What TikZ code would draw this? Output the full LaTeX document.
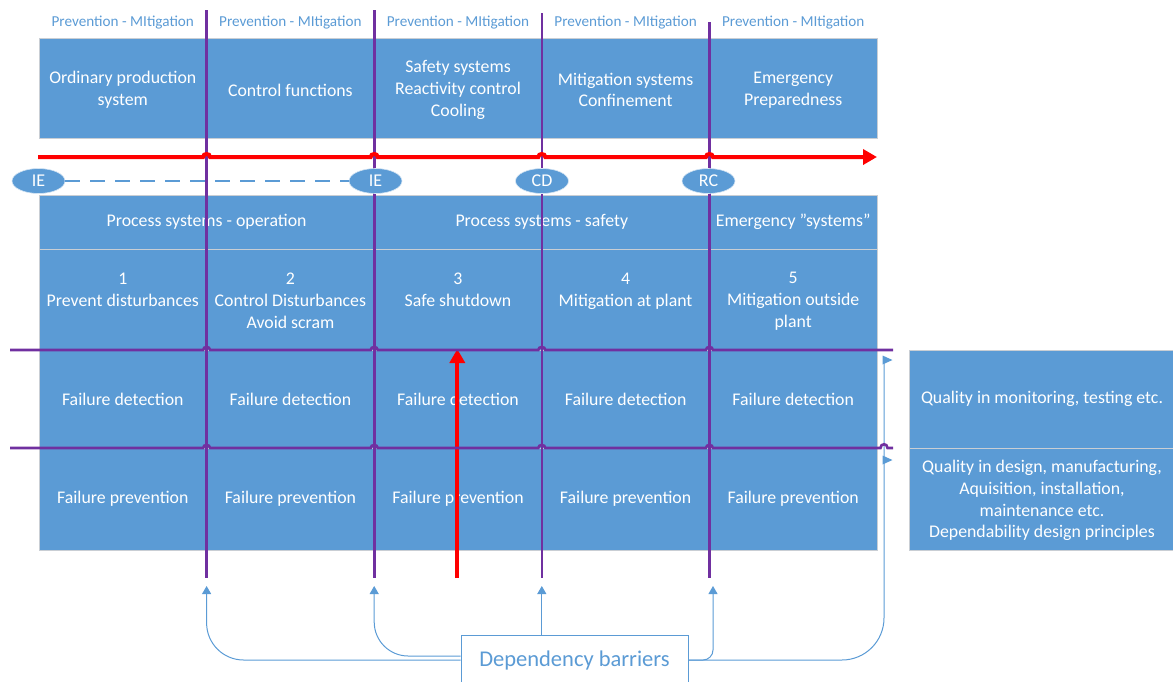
\documentclass[tikz,border=0pt]{standalone}
\usepackage{fontspec}
\setmainfont{Carlito}
\usetikzlibrary{arrows.meta,shapes.geometric}
\definecolor{cblue}{HTML}{5B9BD5}
\definecolor{cpurple}{HTML}{7030A0}
\definecolor{cred}{HTML}{FF0000}
\definecolor{cedge}{HTML}{C9CED4}
\begin{document}
\begin{tikzpicture}[x=1pt,y=-1pt,
  font=\fontsize{17.8}{21.8}\selectfont,
  cell/.style={rectangle, fill=cblue, draw=cedge, line width=0.8pt, text=white, align=center, inner sep=0pt, minimum width=167.6pt},
  ctext/.style={text=white, align=center, inner sep=0pt},
  ptop/.style={text=cblue, inner sep=0pt, font=\fontsize{15.2}{18}\selectfont},
  ev/.style={ellipse, fill=cblue, draw=white!75!cblue, line width=0.6pt, text=white, minimum width=53pt, minimum height=25pt, inner sep=0pt, font=\fontsize{18}{20}\selectfont},
  barrier/.style={draw=cpurple, line width=2.6pt},
  redarrow/.style={draw=cred, line width=4pt, -{Triangle[length=14pt,width=15pt]}},
  deparrow/.style={draw=cblue, line width=1pt, -{Triangle[length=8pt,width=9pt]}},
  depline/.style={draw=cblue, line width=1pt}
]
\useasboundingbox (0,0) rectangle (1173,681);

% top labels
\foreach \i/\cx in {1/122.8,2/290.4,3/458.0,4/625.6,5/793.2}
  \node[ptop] (pl\i) at (\cx,23) {Prevention - MItigation};

% top row
\node[cell, minimum height=100pt] (t1) at (122.8,88) {};
\node[cell, minimum height=100pt] (t2) at (290.4,88) {};
\node[cell, minimum height=100pt] (t3) at (458.0,88) {};
\node[cell, minimum height=100pt] (t4) at (625.6,88) {};
\node[cell, minimum height=100pt] (t5) at (793.2,88) {};
\node[ctext] at ([yshift=-2pt]t1.center) {Ordinary production\\system};
\node[ctext] at ([yshift=-2pt]t2.center) {Control functions};
\node[ctext] at ([yshift=-2pt]t3.center) {Safety systems\\Reactivity control\\Cooling};
\node[ctext] at ([yshift=-2pt]t4.center) {Mitigation systems\\Confinement};
\node[ctext] at ([yshift=-2pt]t5.center) {Emergency\\Preparedness};

% header row
\node[cell, minimum width=335.2pt, minimum height=54pt] (h1) at (206.6,222) {Process systems - operation};
\node[cell, minimum width=335.2pt, minimum height=54pt] (h2) at (541.8,222) {Process systems - safety};
\node[cell, minimum height=54pt] (h3) at (793.2,222) {Emergency ”systems”};

% row 2
\node[cell, minimum height=101pt] (s1) at (122.8,299.5) {};
\node[cell, minimum height=101pt] (s2) at (290.4,299.5) {};
\node[cell, minimum height=101pt] (s3) at (458.0,299.5) {};
\node[cell, minimum height=101pt] (s4) at (625.6,299.5) {};
\node[cell, minimum height=101pt] (s5) at (793.2,299.5) {};
\node[ctext] at ([yshift=-1.5pt]s1.center) {1\\Prevent disturbances\\~};
\node[ctext] at ([yshift=-1.5pt]s2.center) {2\\Control Disturbances\\Avoid scram};
\node[ctext] at ([yshift=-1.5pt]s3.center) {3\\Safe shutdown\\~};
\node[ctext] at ([yshift=-1.5pt]s4.center) {4\\Mitigation at plant\\~};
\node[ctext] at ([yshift=-1.5pt]s5.center) {5\\Mitigation outside\\plant};

% rows 3 and 4
\foreach \i/\cx in {1/122.8,2/290.4,3/458.0,4/625.6,5/793.2} {
  \node[cell, minimum height=98pt] (d\i) at (\cx,399) {Failure detection};
  \node[cell, minimum height=102pt] (f\i) at (\cx,499) {Failure prevention};
}

% right boxes
\node[cell, minimum width=266pt, minimum height=98pt] (q1) at (1042,399) {Quality in monitoring, testing etc.};
\node[cell, minimum width=266pt, minimum height=102pt] (q2) at (1042,499) {};
\node[ctext] at ([yshift=-1.5pt]q2.center) {Quality in design, manufacturing,\\Aquisition, installation,\\maintenance etc.\\Dependability design principles};

% dependency box
\node[rectangle, draw=cblue, line width=1pt, fill=white, text=cblue, minimum width=227pt, minimum height=50pt, inner sep=0pt, font=\fontsize{22.5}{26}\selectfont] (dep) at (574.5,660) {Dependency barriers};

% coordinates
\coordinate (v1t) at (206.6,10);  \coordinate (v1b) at (206.6,578);
\coordinate (v2t) at (374.2,10);  \coordinate (v2b) at (374.2,578);
\coordinate (v3t) at (541.8,13);  \coordinate (v3b) at (541.8,578);
\coordinate (v4t) at (709.4,22);  \coordinate (v4b) at (709.4,578);
\coordinate (a1) at (206.6,586);
\coordinate (a2) at (374.2,586);
\coordinate (a3) at (541.8,586);
\coordinate (a4) at (713,586);
\coordinate (qa) at (884,358);
\coordinate (r0) at (38,157);
\coordinate (r1) at (877,157);
\coordinate (rv0) at (457.3,578);
\coordinate (rv1) at (457.3,349);
\coordinate (hl1) at (10,350); \coordinate (hr1) at (893,350);
\coordinate (hl2) at (10,448); \coordinate (hr2) at (893,448);

% purple vertical barriers
\draw[barrier] (v1t) -- (v1b);
\draw[barrier] (v2t) -- (v2b);
\draw[barrier] (v3t) -- (v3b);
\draw[barrier] (v4t) -- (v4b);

% red timeline with line jumps
\draw[redarrow] (r0) -- (203.1,157) .. controls (203.1,153) and (210.1,153) .. (210.1,157)
  -- (370.7,157) .. controls (370.7,153) and (377.7,153) .. (377.7,157)
  -- (538.3,157) .. controls (538.3,153) and (545.3,153) .. (545.3,157)
  -- (705.9,157) .. controls (705.9,153) and (712.9,153) .. (712.9,157) -- (r1);

% events
\node[ev] (ie1) at (38.5,181) {IE};
\node[ev] (ie2) at (375.5,181) {IE};
\node[ev] (cd) at (542,181) {CD};
\node[ev] (rc) at (708.5,181) {RC};
\draw[cblue, line width=1.1pt, dash pattern=on 15pt off 10pt] (ie1) -- (ie2);

% dependency connectors
\draw[deparrow] (dep.north -| a3) -- (a3);
\draw[deparrow, rounded corners=37pt] (dep.west) -| (a1);
\draw[deparrow, rounded corners=34pt] ([yshift=4pt]dep.west) -| (a2);
\draw[deparrow, rounded corners=10pt] (dep.east) -| (a4);
\draw[depline, rounded corners=42pt] (dep.east) -| (qa);
\fill[cblue] (882.5,355.5) -- (892.5,360) -- (882.5,364.5) -- cycle;
\fill[cblue] (882.5,455.5) -- (892.5,460) -- (882.5,464.5) -- cycle;

% red vertical arrow
\draw[redarrow] (rv0) -- (rv1);

% purple horizontal barriers with jumps
\draw[barrier] (hl1) -- (203.1,350) .. controls (203.1,346) and (210.1,346) .. (210.1,350)
  -- (370.7,350) .. controls (370.7,346) and (377.7,346) .. (377.7,350)
  -- (538.3,350) .. controls (538.3,346) and (545.3,346) .. (545.3,350)
  -- (705.9,350) .. controls (705.9,346) and (712.9,346) .. (712.9,350) -- (hr1);
\draw[barrier] (hl2) -- (203.1,448) .. controls (203.1,444) and (210.1,444) .. (210.1,448)
  -- (370.7,448) .. controls (370.7,444) and (377.7,444) .. (377.7,448)
  -- (538.3,448) .. controls (538.3,444) and (545.3,444) .. (545.3,448)
  -- (705.9,448) .. controls (705.9,444) and (712.9,444) .. (712.9,448)
  -- (880.5,448) .. controls (880.5,443) and (887.5,443) .. (887.5,448) -- (hr2);
\end{tikzpicture}
\end{document}
